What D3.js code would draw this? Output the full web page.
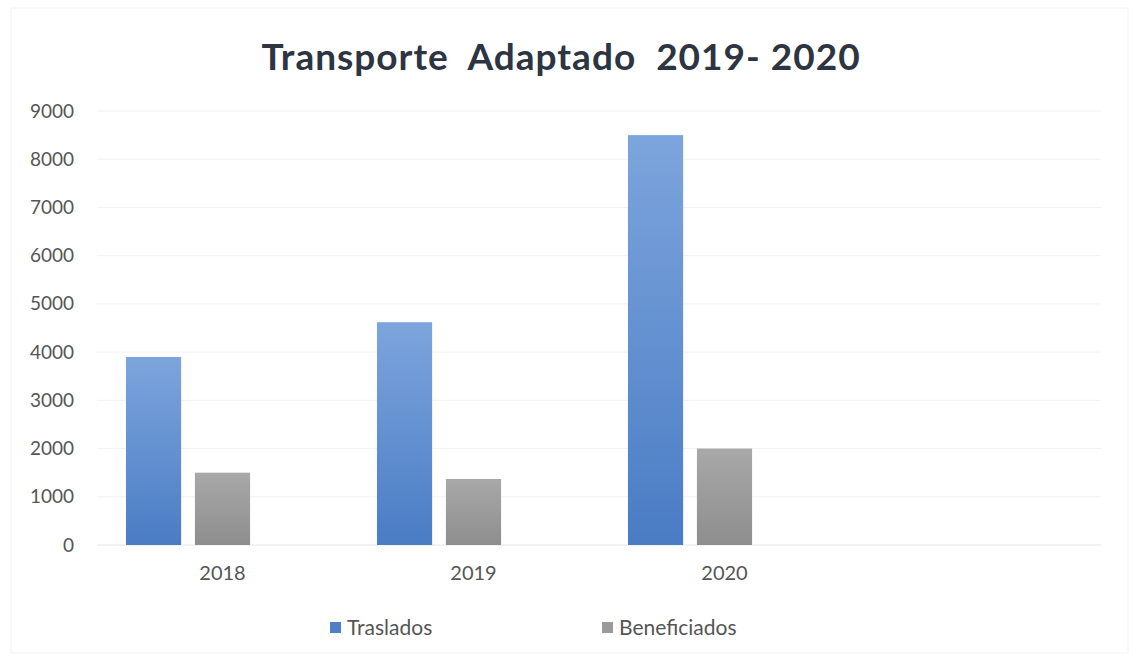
<!DOCTYPE html>
<html>
<head>
<meta charset="utf-8">
<script src="https://cdn.jsdelivr.net/npm/d3@7"></script>
<style>
  body { margin: 0; background: #fff; }
  text { font-family: Lato, "Open Sans", sans-serif; }
</style>
</head>
<body>
<script>
// chart data
var categories = ["2018", "2019", "2020"];
var seriesNames = ["Traslados", "Beneficiados"];
var traslados = [3900, 4620, 8500];
var beneficiados = [1500, 1370, 2000];
var yTicks = [0, 1000, 2000, 3000, 4000, 5000, 6000, 7000, 8000, 9000];

function init(){
    var w = 1137;
    var h = 659;

    var svg = d3.select("body")
                .append("svg")
                .attr("width", w)
                .attr("height", h);

    // gradients for the bars
    var defs = svg.append("defs");
    var gBlue = defs.append("linearGradient").attr("id", "gBlue")
        .attr("x1", 0).attr("y1", 0).attr("x2", 0).attr("y2", 1);
    gBlue.append("stop").attr("offset", "0%").attr("stop-color", "#7da5dd");
    gBlue.append("stop").attr("offset", "100%").attr("stop-color", "#4a7cc4");
    var gGray = defs.append("linearGradient").attr("id", "gGray")
        .attr("x1", 0).attr("y1", 0).attr("x2", 0).attr("y2", 1);
    gGray.append("stop").attr("offset", "0%").attr("stop-color", "#a8a8a8");
    gGray.append("stop").attr("offset", "100%").attr("stop-color", "#8e8e8e");

    var fills = ["url(#gBlue)", "url(#gGray)"];
    var legendColors = ["#4f7fc4", "#9a9a9a"];

    // faint frame
    svg.append("rect")
        .attr("x", 11).attr("y", 8)
        .attr("width", w - 20).attr("height", h - 14)
        .attr("fill", "none")
        .attr("stroke", "#f3f3f3");

    // title
    svg.append("text")
        .attr("x", 561).attr("y", 70)
        .attr("text-anchor", "middle")
        .attr("font-size", 37)
        .attr("font-weight", "bold")
        .attr("letter-spacing", 1)
        .attr("fill", "#2c3541")
        .attr("xml:space", "preserve")
        .style("white-space", "pre")
        .text("Transporte  Adaptado  2019- 2020");

    // scales
    var xScale = d3.scaleBand()
                    .domain(categories.concat([""])) // one empty slot on the right
                    .range([97, 1101])
                    .padding(0);

    var xInner = d3.scaleBand()
                    .domain(seriesNames.concat(["_"])) // third (empty) series slot
                    .range([0, xScale.bandwidth()])
                    .paddingInner(0.2)
                    .paddingOuter(0.42);

    var yScale = d3.scaleLinear()
                    .domain([0, 9000])
                    .range([545, 111]);

    // gridlines
    svg.append("g")
        .selectAll("line")
        .data(yTicks)
        .enter()
        .append("line")
        .attr("x1", 97)
        .attr("x2", 1101)
        .attr("y1", function(d){ return yScale(d); })
        .attr("y2", function(d){ return yScale(d); })
        .attr("stroke", function(d){ return d === 0 ? "#e6e6e6" : "#f2f2f2"; })
        .attr("stroke-width", 1);

    // y axis
    var yAxis = d3.axisLeft(yScale)
                  .tickValues(yTicks)
                  .tickSize(0)
                  .tickPadding(0)
                  .tickFormat(d3.format("d"));
    var gy = svg.append("g")
        .attr("transform", "translate(74,0)")
        .call(yAxis);
    gy.select(".domain").remove();
    gy.selectAll("text")
        .attr("font-size", 19)
        .attr("fill", "#555555")
        .attr("font-family", "Lato, 'Open Sans', sans-serif");

    // x axis
    var xAxis = d3.axisBottom(xScale)
                  .tickSize(0)
                  .tickPadding(0);
    var gx = svg.append("g")
        .attr("transform", "translate(0,565)")
        .call(xAxis);
    gx.select(".domain").remove();
    gx.selectAll("text")
        .attr("font-size", 20)
        .attr("fill", "#555555")
        .attr("dy", "0.75em")
        .attr("font-family", "Lato, 'Open Sans', sans-serif");

    // bars
    var seriesData = [traslados, beneficiados];
    seriesNames.forEach(function(name, s){
        svg.append("g")
            .selectAll("rect")
            .data(seriesData[s])
            .enter()
            .append("rect")
            .attr("x", function(d, i){ return xScale(categories[i]) + xInner(name); })
            .attr("y", function(d){ return yScale(d); })
            .attr("width", xInner.bandwidth())
            .attr("height", function(d){ return yScale(0) - yScale(d); })
            .attr("fill", fills[s]);
    });

    // legend
    var legendX = [330, 602];
    var legend = svg.append("g");
    seriesNames.forEach(function(name, s){
        legend.append("rect")
            .attr("x", legendX[s]).attr("y", 622)
            .attr("width", 11).attr("height", 11)
            .attr("fill", legendColors[s]);
        legend.append("text")
            .attr("x", legendX[s] + 17).attr("y", 635)
            .attr("font-size", 21)
            .attr("fill", "#555555")
            .text(name);
    });
}
window.onload = init;
</script>
</body>
</html>
